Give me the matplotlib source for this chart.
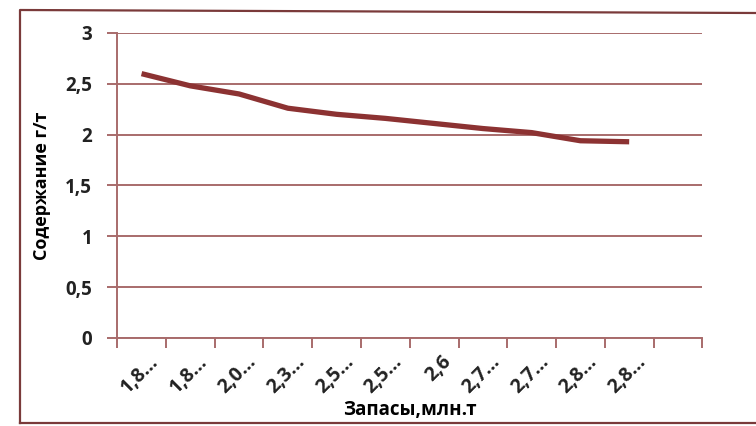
import matplotlib
matplotlib.use("Agg")
import matplotlib.pyplot as plt
from matplotlib.transforms import ScaledTranslation
from matplotlib.lines import Line2D

plt.rcParams['font.family'] = ['Open Sans', 'DejaVu Sans']

# запасы (подписи категорий) и содержание, г/т
labels = ['1,8…', '1,8…', '2,0…', '2,3…', '2,5…', '2,5…', '2,6', '2,7…', '2,7…', '2,8…', '2,8…', '']
grade = [2.6, 2.48, 2.4, 2.26, 2.2, 2.16, 2.11, 2.06, 2.02, 1.94, 1.93]
yticks = [0, 0.5, 1, 1.5, 2, 2.5, 3]
ytick_labels = ['0', '0,5', '1', '1,5', '2', '2,5', '3']

line_col = '#8c3232'
grid_col = '#a86b6b'
frame_col = '#7a3a3a'
text_col = '#222222'

fig = plt.figure(figsize=(7.56, 4.26), dpi=100)
ax = fig.add_axes([0.155, 0.2066, 0.774, 0.716])

ax.plot(range(len(grade)), grade, color=line_col, lw=3.8, solid_capstyle='butt')

n = len(labels)
ax.set_xlim(-0.5, n - 0.5)
ax.set_ylim(0, 3)

ax.set_yticks(yticks)
ax.set_yticklabels(ytick_labels, fontsize=13.5, fontweight='bold', color=text_col)
ax.grid(axis='y', color=grid_col, lw=1.4)
ax.tick_params(axis='y', length=7, width=1.4, color=grid_col, pad=11)

# major ticks at category boundaries, labels at category centres
ax.set_xticks([i - 0.5 for i in range(n + 1)])
ax.set_xticklabels([])
ax.set_xticks(range(n), minor=True)
ax.set_xticklabels(labels, minor=True, rotation=45, ha='right', va='center',
                   rotation_mode='anchor', fontsize=14, fontweight='bold', color=text_col)
ax.tick_params(axis='x', which='major', length=7, width=1.4, color=grid_col)
ax.tick_params(axis='x', which='minor', length=0, pad=15)
for lbl in ax.get_xticklabels(minor=True):
    lbl.set_transform(lbl.get_transform() + ScaledTranslation(0.14, 0, fig.dpi_scale_trans))

for side in ['top', 'right']:
    ax.spines[side].set_visible(False)
for side in ['left', 'bottom']:
    ax.spines[side].set_color(grid_col)
    ax.spines[side].set_linewidth(1.4)
ax.set_axisbelow(True)

ax.set_ylabel('Содержание г/т', fontsize=13, fontweight='bold', va='center')
ax.yaxis.set_label_coords(-0.128, 0.5)
ax.set_xlabel('Запасы,млн.т', fontsize=13.5, fontweight='bold', va='center')
ax.xaxis.set_label_coords(0.5, -0.236)

# outer chart frame
fx = [20 / 756, 20 / 756, 1.0]
fy = [3 / 426, 416 / 426, 413 / 426]
fig.add_artist(Line2D(fx, fy, transform=fig.transFigure, color=frame_col, lw=1.6))
fig.add_artist(Line2D([20 / 756, 1.0], [3 / 426, 3 / 426], transform=fig.transFigure,
                      color=frame_col, lw=1.6))

fig.savefig('out.png', dpi=100)
